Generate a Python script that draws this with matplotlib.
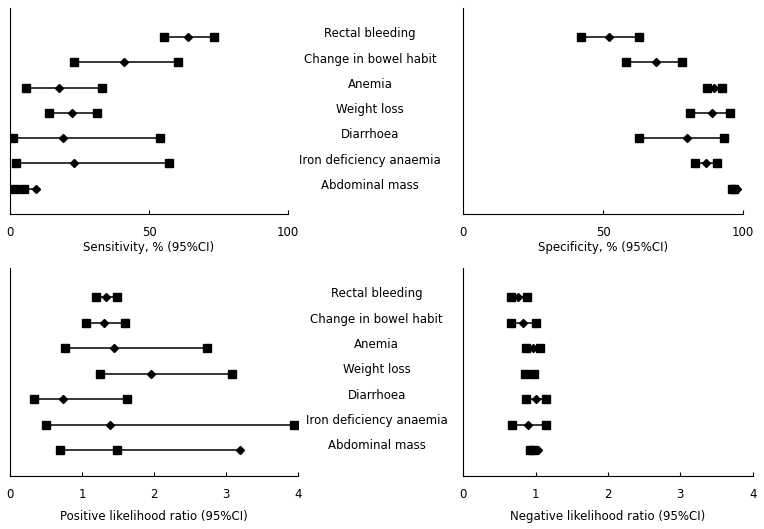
import matplotlib.pyplot as plt
import numpy as np

symptoms = ["Rectal bleeding", "Change in bowel habit", "Anemia", "Weight loss",
            "Diarrhoea", "Iron deficiency anaemia", "Abdominal mass"]

# point estimate, lower and upper bound
sens_est = [64.0, 40.9, 17.5, 22.3, 19.2, 23.1, 9.5]
sens_lo = [55.4, 23.1, 5.9, 14.1, 1.2, 2.2, 1.9]
sens_hi = [73.5, 60.6, 33.2, 31.4, 54.1, 57.3, 5.0]

spec_est = [52.1, 68.9, 89.6, 88.8, 80.0, 86.8, 97.6]
spec_lo = [42.0, 58.2, 87.1, 81.1, 62.9, 82.9, 96.0]
spec_hi = [62.9, 78.2, 92.3, 95.1, 93.2, 90.7, 96.6]

plr_est = [1.34, 1.31, 1.44, 1.96, 0.74, 1.39, 3.19]
plr_lo = [1.20, 1.05, 0.77, 1.25, 0.34, 0.50, 0.69]
plr_hi = [1.48, 1.60, 2.74, 3.09, 1.63, 3.94, 1.48]

nlr_est = [0.76, 0.82, 0.96, 0.91, 1.00, 0.89, 1.03]
nlr_lo = [0.66, 0.66, 0.87, 0.85, 0.86, 0.67, 0.92]
nlr_hi = [0.885, 1.01, 1.065, 0.98, 1.14, 1.14, 0.97]

fig = plt.figure(figsize=(7.64, 5.29), dpi=100)
plt.rcParams['font.family'] = ['DejaVu Sans']

ypos = np.arange(7, 0, -1)


def panel(rect, est, lo, hi, xmax, ticks, xlabel, lpad):
    ax = fig.add_axes(rect)
    for y, e, l, h in zip(ypos, est, lo, hi):
        vals = [e, l, h]
        ax.plot([min(vals), max(vals)], [y, y], color="black", lw=1.1, zorder=1)
        ax.plot([l, h], [y, y], ls="none", marker="s", ms=5.2, color="black", zorder=2)
        ax.plot([e], [y], ls="none", marker="D", ms=3.9, color="black", zorder=3)
    ax.set_xlim(0, xmax)
    ax.set_ylim(0, 8.15)
    ax.set_xticks(ticks)
    ax.set_yticks([])
    ax.spines["top"].set_visible(False)
    ax.spines["right"].set_visible(False)
    ax.tick_params(axis="x", direction="in", length=3, labelsize=8.5, pad=9)
    ax.set_xlabel(xlabel, fontsize=8.5, labelpad=lpad)
    return ax


panel([0.0131, 0.5955, 0.3639, 0.3895], sens_est, sens_lo, sens_hi, 100, [0, 50, 100],
      "Sensitivity, % (95%CI)", 1)
panel([0.6064, 0.5955, 0.3665, 0.3895], spec_est, spec_lo, spec_hi, 100, [0, 50, 100],
      "Specificity, % (95%CI)", 1)
panel([0.0131, 0.1002, 0.3769, 0.3932], plr_est, plr_lo, plr_hi, 4, [0, 1, 2, 3, 4],
      "Positive likelihood ratio (95%CI)", 6)
panel([0.6064, 0.1002, 0.3788, 0.3932], nlr_est, nlr_lo, nlr_hi, 4, [0, 1, 2, 3, 4],
      "Negative likelihood ratio (95%CI)", 6)

# symptom labels between the panels
for top, xc in [(0.985, 0.4845), (0.4934, 0.4930)]:
    for i, name in enumerate(symptoms):
        y = top - (8.15 - ypos[i]) / 8.15 * 0.3895 + 0.006
        fig.text(xc, y, name, ha="center", va="center", fontsize=8.5)

plt.savefig("out.png", dpi=100)
